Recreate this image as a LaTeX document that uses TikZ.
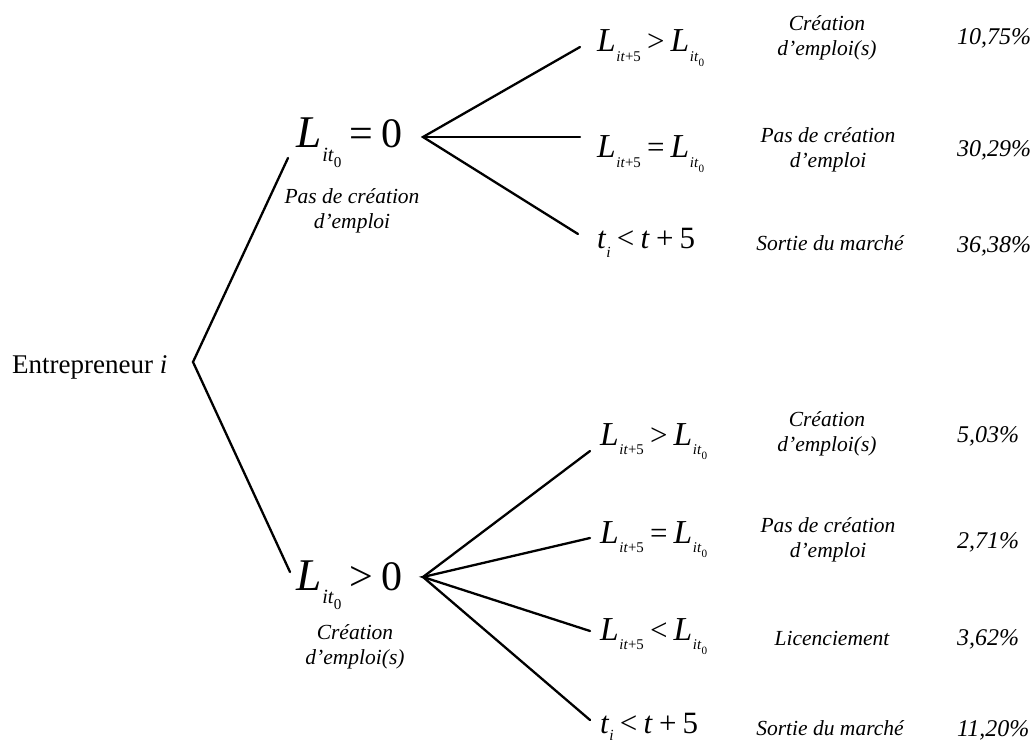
\documentclass[tikz,border=0pt]{standalone}
\usepackage{fontspec}
\setmainfont{Liberation Serif}
\newcommand\fs[1]{\fontsize{#1}{#1}\selectfont}
% L_{it_0}
\newcommand\Lzero{\scalebox{1.08}{\textit{L}}\kern0.02em\raisebox{-0.32em}{\scalebox{0.48}{\textit{it}\raisebox{-0.3em}{\scalebox{0.75}{0}}}}}
% L_{it+5}
\newcommand\Lfive{\scalebox{1.08}{\textit{L}}\kern0.02em\raisebox{-0.32em}{\scalebox{0.48}{\textit{it}+5}}}
\newcommand\rel[1]{\hspace{0.2em}#1\hspace{0.2em}}
\begin{document}
\begin{tikzpicture}[x=1pt,y=-1pt,
  br/.style={line width=2.3pt,line cap=round},
  bigm/.style={anchor=base west,inner sep=0pt,font=\fs{42}},
  sidem/.style={anchor=base west,inner sep=0pt,font=\fs{31}},
  desc/.style={align=center,inner sep=0pt,font=\fontsize{21.5}{24.5}\selectfont\itshape},
  descb/.style={anchor=base,inner sep=0pt,font=\fs{21.5}\itshape},
  pct/.style={anchor=base west,inner sep=0pt,font=\fs{24}\itshape}]
\useasboundingbox (0,0) rectangle (1035,743);

% root
\node[anchor=base west,inner sep=0pt,font=\fs{27}] (ent) at (12,373) {Entrepreneur \textit{i}};
\coordinate (root) at (193,362);
\coordinate (uend) at (288,158);
\coordinate (lend) at (290,572);
\draw[br] (uend) -- (root) -- (lend);

% upper branch
\node[bigm] (up) at (296,148) {\Lzero\rel{=}0};
\node[desc] (updesc) at (352,211) {Pas de création\\d'emploi};
\coordinate (uf) at (423,137);
\coordinate (u1) at (580,47);
\coordinate (u2) at (580,137);
\coordinate (u3) at (578,234);
\draw[br] (u1) -- (uf) -- (u3);
\draw[br] (uf) -- (u2);

\node[sidem] (ua) at (597,52) {\Lfive\rel{>}\Lzero};
\node[sidem] (ub) at (597,158) {\Lfive\rel{=}\Lzero};
\node[sidem] (uc) at (597,248) {\textit{t}\raisebox{-0.3em}{\scalebox{0.5}{\textit{i}}}\rel{<}\textit{t}\rel{+}5};

\node[desc] (uda) at (827,38) {Création\\d'emploi(s)};
\node[desc] (udb) at (828,150) {Pas de création\\d'emploi};
\node[descb] (udc) at (830,251) {Sortie du marché};

\node[pct] (upa) at (957,45) {10,75\%};
\node[pct] (upb) at (957,157) {30,29\%};
\node[pct] (upc) at (957,252) {36,38\%};

% lower branch
\node[bigm] (lo) at (296,590) {\Lzero\rel{>}0};
\node[desc] (lodesc) at (355,647) {Création\\d'emploi(s)};
\coordinate (lf) at (423,577);
\coordinate (l1) at (590,451);
\coordinate (l2) at (590,538);
\coordinate (l3) at (590,631);
\coordinate (l4) at (590,720);
\draw[br] (l1) -- (lf) -- (l4);
\draw[br] (l2) -- (lf) -- (l3);

\node[sidem] (la) at (600,445) {\Lfive\rel{>}\Lzero};
\node[sidem] (lb) at (600,543) {\Lfive\rel{=}\Lzero};
\node[sidem] (lc) at (600,640) {\Lfive\rel{<}\Lzero};
\node[sidem] (ld) at (600,733) {\textit{t}\raisebox{-0.25em}{\scalebox{0.5}{\textit{i}}}\rel{<}\textit{t}\rel{+}5};

\node[desc] (lda) at (827,434) {Création\\d'emploi(s)};
\node[desc] (ldb) at (828,540) {Pas de création\\d'emploi};
\node[descb] (ldc) at (832,645) {Licenciement};
\node[descb] (ldd) at (830,735) {Sortie du marché};

\node[pct] (lpa) at (957,442) {5,03\%};
\node[pct] (lpb) at (957,548) {2,71\%};
\node[pct] (lpc) at (957,645) {3,62\%};
\node[pct] (lpd) at (957,736) {11,20\%};
\end{tikzpicture}
\end{document}
